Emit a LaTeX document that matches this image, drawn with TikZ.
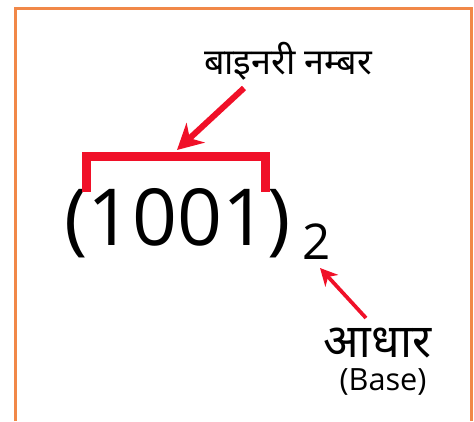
\documentclass[tikz,border=0pt]{standalone}
\usepackage{fontspec}
\setmainfont{Open Sans}
\newfontfamily\hindi[Script=Devanagari]{Noto Sans}
\usetikzlibrary{arrows.meta,positioning}
\definecolor{framecol}{RGB}{241,136,72}
\definecolor{markred}{RGB}{240,16,40}

\begin{document}
\begin{tikzpicture}[x=0.75pt, y=-0.75pt]
        \tikzset{
            numtext/.style={inner sep=0pt, font=\fontsize{59}{60}\selectfont},
            redarrow/.style={draw=markred, line width=#1},
        }
        \useasboundingbox (0,0) rectangle (474,421);
        % Frame, open at the bottom
        \draw[framecol, line width=2.2pt] (15.5,421) -- (15.5,8.5) -- (471.5,8.5) -- (471.5,421);

        % The number and its base
        \node[numtext, anchor=base] (num) at (177.5,245) {(1001)};
        \node[inner sep=0pt, anchor=base, font=\fontsize{37}{40}\selectfont] (base) at (317,259) {2};

        % Bracket over the digits
        \draw[markred, line width=6.75pt, line join=miter] (86.5,192) -- (86.5,156) -- (265,156) -- (265,192);
        \coordinate (brtip) at (177,150);

        % Labels
        \node[inner sep=0pt, anchor=base, font=\hindi\fontsize{27}{30}\selectfont] (binlabel) at (288,74) {बाइनरी नम्बर};
        \node[inner sep=0pt, anchor=base, text depth=0pt, font=\hindi\bfseries\fontsize{35}{36}\selectfont] (baselabel) at (377.5,357) {आधार};
        \node[inner sep=0pt, anchor=base, font=\fontsize{23}{26}\selectfont] (baseen) at (383,390) {(Base)};

        % Arrows
        \coordinate (bintail) at (244,88);
        \coordinate (basetail) at (366,318);
        \coordinate (basetip) at (320,268);
        \draw[redarrow=4.5pt, -{Stealth[length=19pt, width=20pt, inset=6pt]}] (bintail) -- (brtip);
        \draw[redarrow=2.8pt, -{Stealth[length=13pt, width=13pt, inset=4pt]}] (basetail) -- (basetip);
    \end{tikzpicture}
\end{document}
